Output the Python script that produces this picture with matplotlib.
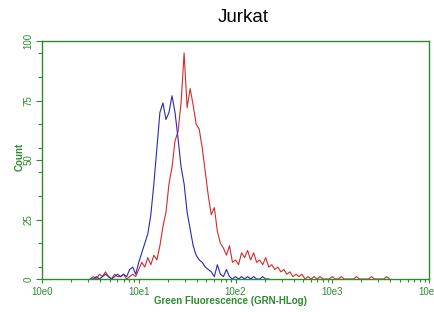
import numpy as np
import matplotlib
matplotlib.use("Agg")
import matplotlib.pyplot as plt
from matplotlib.ticker import FixedLocator, LogLocator, NullFormatter

plt.rcParams["font.family"] = ["Liberation Sans", "DejaVu Sans"]

# histogram channels: 32 per decade, counts
channels_per_decade = 32
blue_start = 16
blue_counts = [0, 0, 1, 0, 1, 2, 1, 0, 1, 2, 1, 2, 1, 4, 5, 2,
               7, 11, 15, 19, 27, 40, 55, 70, 74, 67, 70, 77, 70, 59, 47, 40,
               28, 21, 14, 10, 8, 7, 5, 4, 3, 1, 6, 2, 1, 4, 1, 0,
               1, 0, 1, 0, 1, 0, 1, 0, 0, 1, 0, 0]
red_start = 16
red_counts = [0, 1, 0, 2, 1, 3, 1, 0, 2, 1, 1, 2, 0, 1, 2, 1,
              4, 7, 5, 9, 6, 10, 8, 14, 22, 28, 40, 47, 58, 62, 74, 95,
              72, 80, 73, 65, 63, 55, 45, 35, 27, 30, 20, 15, 13, 10, 14, 7,
              8, 6, 11, 9, 12, 8, 11, 7, 8, 6, 9, 5, 6, 4, 5, 3,
              4, 2, 3, 1, 2, 1, 2, 0, 1, 0, 1, 0, 1, 0, 0, 0,
              1, 0, 0, 1, 0, 0, 0, 0, 1, 0, 0, 0, 0, 1, 0, 0,
              0, 0, 1, 0]

x_ticks = [1, 10, 100, 1000, 10000]
x_labels = ["10e0", "10e1", "10e2", "10e3", "10e4"]
y_ticks = [0, 25, 50, 75, 100]
y_minor = [5, 15, 35, 45, 55, 65, 85, 95]

green = "#2e8b2e"

blue_x = 10 ** (np.arange(blue_start, blue_start + len(blue_counts)) / channels_per_decade)
red_x = 10 ** (np.arange(red_start, red_start + len(red_counts)) / channels_per_decade)

fig = plt.figure(figsize=(4.34, 3.12), dpi=100)
ax = fig.add_axes([42 / 434, 1 - 279 / 312, 387 / 434, 238 / 312])

ax.plot(red_x, red_counts, color="#d42a2a", lw=0.8)
ax.plot(blue_x, blue_counts, color="#2a2ab8", lw=0.8)

ax.set_xscale("log")
ax.set_xlim(1, 10000)
ax.set_ylim(0, 100)

ax.set_xticks(x_ticks)
ax.set_xticklabels(x_labels)
ax.xaxis.set_minor_locator(LogLocator(base=10, subs=np.arange(2, 10)))
ax.xaxis.set_minor_formatter(NullFormatter())
ax.set_yticks(y_ticks)
ax.set_yticklabels([str(v) for v in y_ticks])
ax.yaxis.set_minor_locator(FixedLocator(y_minor))

for s in ax.spines.values():
    s.set_color(green)
    s.set_linewidth(1.0)

ax.tick_params(axis="both", which="both", colors=green, labelcolor=green,
               labelsize=7, width=0.8)
ax.tick_params(axis="x", which="major", length=3, pad=2.5)
ax.tick_params(axis="x", which="minor", length=2)
ax.tick_params(axis="y", which="major", length=4, pad=2, labelrotation=90)
ax.tick_params(axis="y", which="minor", length=3)
for lab in ax.get_yticklabels():
    lab.set_va("center")

fig.text(243 / 434, 1 - 18 / 312, "Jurkat", ha="center", va="center",
         fontsize=13.5, color="black")
fig.text(231 / 434, 1 - 301 / 312, "Green Fluorescence (GRN-HLog)",
         ha="center", va="center", fontsize=7, fontweight="bold", color=green)
fig.text(20 / 434, 1 - 157 / 312, "Count", ha="center", va="center",
         rotation=90, fontsize=7, fontweight="bold", color=green)

fig.savefig("out.png", dpi=100)
